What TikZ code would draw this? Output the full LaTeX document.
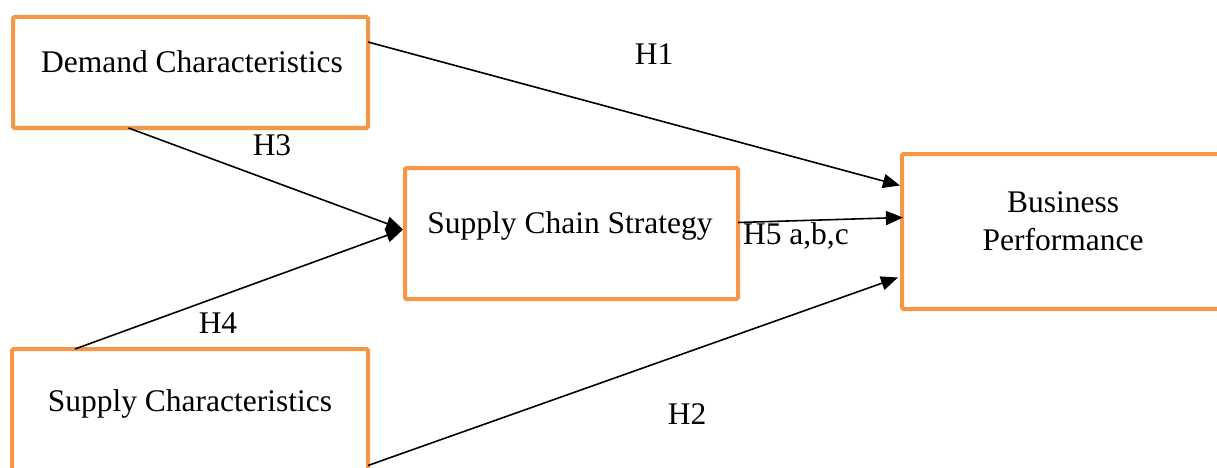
\documentclass[tikz,border=0pt]{standalone}
\usepackage{fontspec}
\setmainfont{Liberation Serif}
\usetikzlibrary{arrows.meta}
\definecolor{boxorange}{HTML}{F79646}
\begin{document}
\begin{tikzpicture}[x=1pt,y=-1pt,
  box/.style={draw=boxorange,line width=4pt,rounded corners=1.5pt,inner sep=0pt,outer sep=0pt,fill=none},
  lbl/.style={inner sep=0pt,outer sep=0pt,font=\fontsize{31.5}{37}\selectfont,anchor=base},
  conn/.style={line width=1.6pt,-{Triangle[length=17pt,width=14pt]}},
  plain/.style={line width=1.6pt}]
\useasboundingbox (0,0) rectangle (1217,468);
\node[box,minimum width=355pt,minimum height=111pt] (dem) at (190.5,72.5) {};
\node[box,minimum width=333pt,minimum height=131pt] (scs) at (571.5,233.5) {};
\node[box,minimum width=318pt,minimum height=155pt] (bp) at (1061,231.5) {};
\node[box,minimum width=356pt,minimum height=131pt] (sup) at (190,414.5) {};
\node[lbl] (demt) at (192,73) {Demand Characteristics};
\node[lbl] (scst) at (570,233) {Supply Chain Strategy};
\node[lbl,align=center] (bpt1) at (1063,212) {Business};
\node[lbl] (bpt2) at (1063,250) {Performance};
\node[lbl] (supt) at (190,411) {Supply Characteristics};
\node[lbl] (h1) at (654,65) {H1};
\node[lbl] (h3) at (272,155) {H3};
\node[lbl] (h4) at (218,333) {H4};
\node[lbl,anchor=base west] (h5) at (743,244) {H5 a,b,c};
\node[lbl] (h2) at (687,424) {H2};
\draw[conn] ([yshift=-25pt]dem.north east) -- ([yshift=46pt,xshift=-2pt]bp.west);
\draw[conn] ([xshift=-62pt]dem.south) -- ([yshift=4pt,xshift=-2pt]scs.west);
\draw[conn] ([xshift=-115pt]sup.north) -- ([yshift=4pt,xshift=-2pt]scs.west);
\draw[conn] ([yshift=11pt]scs.east) -- ([yshift=14pt,xshift=1pt]bp.west);
\draw[conn] ([yshift=-51pt]sup.east) -- ([yshift=-46pt,xshift=-4pt]bp.west);
\end{tikzpicture}
\end{document}
